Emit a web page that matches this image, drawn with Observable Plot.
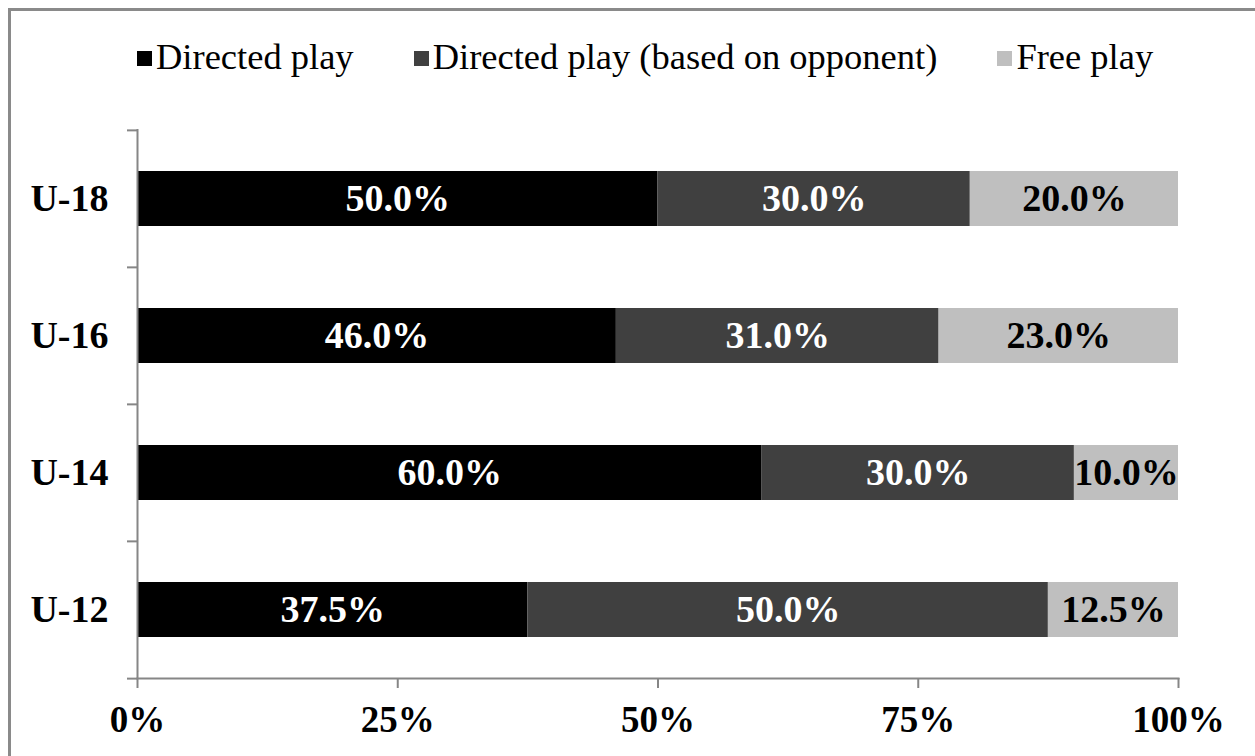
<!DOCTYPE html>
<html>
<head>
<meta charset="utf-8">
<script src="https://cdn.jsdelivr.net/npm/d3@7"></script>
<script src="https://cdn.jsdelivr.net/npm/@observablehq/plot@0.6"></script>
<style>
  html, body { margin: 0; padding: 0; background: #fff; }
  #wrap { position: relative; width: 1255px; height: 756px; overflow: hidden; background: #fff; font-family: "Liberation Serif", "Times New Roman", serif; }
  #border { position: absolute; left: 8px; top: 8px; width: 1400px; height: 900px; border: 3px solid #8a8a8a; box-sizing: border-box; pointer-events: none; }
  #legend { position: absolute; left: 137px; top: 39px; height: 36px; line-height: 36px; font-size: 36.5px; white-space: nowrap; color: #000; }
  .item { display: inline-block; margin-right: 60px; }
  .sw { display: inline-block; width: 15px; height: 15px; margin-right: 4px; vertical-align: baseline; position: relative; top: -3px; }
  #chart { position: absolute; left: 0; top: 100px; }
</style>
</head>
<body>
<div id="wrap">
  <div id="border"></div>
  <div id="legend"></div>
  <div id="chart"></div>
</div>
<script>
const categories = ["U-18", "U-16", "U-14", "U-12"];
const seriesNames = ["Directed play", "Directed play (based on opponent)", "Free play"];
const directedPlay = [50.0, 46.0, 60.0, 37.5];
const directedOpponent = [30.0, 31.0, 30.0, 50.0];
const freePlay = [20.0, 23.0, 10.0, 12.5];
const xTicks = [0, 25, 50, 75, 100];
const seriesColors = ["#000000", "#404040", "#bfbfbf"];
const labelColors = ["#ffffff", "#ffffff", "#000000"];
const axisColor = "#868686";

const seriesValues = [directedPlay, directedOpponent, freePlay];
const rows = [];
categories.forEach((g, gi) => {
  seriesValues.forEach((vals, si) => {
    rows.push({group: g, series: seriesNames[si], si, value: vals[gi]});
  });
});

// legend
const legend = document.getElementById("legend");
seriesNames.forEach((name, i) => {
  const item = document.createElement("span");
  item.className = "item";
  const sw = document.createElement("span");
  sw.className = "sw";
  sw.style.background = seriesColors[i];
  item.appendChild(sw);
  item.appendChild(document.createTextNode(name));
  legend.appendChild(item);
});

const W = 1255, H = 656, mt = 29, mb = 78, ml = 137, mr = 77;
const halfStep = (H - mt - mb) / categories.length / 2;

const chart = Plot.plot({
  width: W,
  height: H,
  marginTop: mt,
  marginBottom: mb,
  marginLeft: ml,
  marginRight: mr,
  style: {fontFamily: "'Liberation Serif', 'Times New Roman', serif", background: "transparent", overflow: "visible"},
  x: {domain: [0, 100]},
  y: {domain: categories, paddingInner: 0.6, paddingOuter: 0.3},
  color: {type: "identity"},
  marks: [
    Plot.barX(rows, {x: "value", y: "group", z: "series", fill: d => seriesColors[d.si]}),
    Plot.text(rows, Plot.stackX({
      x: "value", y: "group", z: "series",
      text: d => d.value.toFixed(1) + "%",
      fill: d => labelColors[d.si],
      fontSize: 38, fontWeight: "bold"
    })),
    Plot.ruleX([0], {stroke: axisColor, strokeWidth: 2}),
    Plot.frame({anchor: "bottom", stroke: axisColor, strokeWidth: 2}),
    Plot.axisX({
      ticks: xTicks, tickFormat: d => d + "%", tickSize: 10, tickPadding: 17,
      fontSize: 37, fontWeight: "bold", stroke: axisColor, strokeWidth: 2,
      fill: "#000", label: null
    }),
    Plot.axisY({tickSize: 0, tickPadding: 29, fontSize: 38, fontWeight: "bold", fill: "#000", label: null}),
    Plot.axisY({tickSize: 10, text: null, dy: -halfStep, stroke: axisColor, strokeWidth: 2, label: null}),
    Plot.axisY({ticks: ["U-12"], tickSize: 10, text: null, dy: halfStep, stroke: axisColor, strokeWidth: 2, label: null})
  ]
});
document.getElementById("chart").appendChild(chart);
</script>
</body>
</html>
